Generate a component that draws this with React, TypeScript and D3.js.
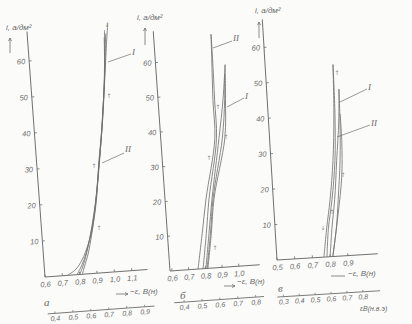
import React from 'react';
import * as d3 from 'd3';

type Pt = [number, number];

// ---------- Panel а ----------
const xTicksA = [0.6, 0.7, 0.8, 0.9, 1.0, 1.1];
const yTicksA = [10, 20, 30, 40, 50, 60];
const x2TicksA = [0.4, 0.5, 0.6, 0.7, 0.8, 0.9];
const curveA1: Pt[] = [[0.73, 0], [0.78, 1.5], [0.82, 4], [0.86, 8], [0.89, 12], [0.93, 21], [0.955, 30], [0.985, 39], [1.005, 46], [1.025, 54], [1.038, 63], [1.04, 65]];
const curveA2: Pt[] = [[0.785, 0], [0.81, 2], [0.84, 5], [0.88, 11], [0.92, 19], [0.95, 28], [0.98, 37], [1.005, 46], [1.03, 55], [1.05, 63], [1.067, 69]];
const curveA3: Pt[] = [[0.8, 0], [0.82, 2], [0.85, 6], [0.89, 13], [0.93, 22], [0.96, 31], [0.99, 40], [1.012, 48], [1.032, 57], [1.05, 66]];
const curveA4: Pt[] = [[0.815, 0], [0.83, 2], [0.86, 6], [0.9, 14], [0.935, 23], [0.965, 32], [0.995, 42], [1.018, 51], [1.035, 60], [1.045, 67]];

// ---------- Panel б ----------
const xTicksB = [0.6, 0.7, 0.8, 0.9, 1.0];
const yTicksB = [10, 20, 30, 40, 50, 60];
const x2TicksB = [0.4, 0.5, 0.6, 0.7, 0.8];
const curveB_IIa: Pt[] = [[0.756, 0], [0.795, 10], [0.833, 20], [0.91, 37], [0.915, 48], [0.925, 60], [0.931, 67]];
const curveB_IIb: Pt[] = [[0.786, 0], [0.82, 10], [0.851, 20], [0.92, 37], [0.925, 48], [0.93, 60], [0.931, 67]];
const curveB_Ia: Pt[] = [[0.803, 0], [0.836, 10], [0.869, 20], [0.935, 37], [0.975, 48], [1.002, 58]];
const curveB_Ic: Pt[] = [[0.81, 0], [0.845, 10], [0.875, 20], [0.955, 37], [0.985, 48], [0.995, 55]];
const curveB_Ib: Pt[] = [[0.815, 0], [0.85, 10], [0.881, 20], [0.97, 37], [0.99, 48], [1.002, 58]];

// ---------- Panel в ----------
const xTicksC = [0.5, 0.6, 0.7, 0.8, 0.9];
const yTicksC = [10, 20, 30, 40, 50, 60];
const x2TicksC = [0.3, 0.4, 0.5, 0.6, 0.7, 0.8];
const curveC_IIa: Pt[] = [[0.765, 0], [0.79, 8], [0.819, 16], [0.849, 27], [0.87, 40], [0.882, 54]];
const curveC_IIb: Pt[] = [[0.782, 0], [0.8, 8], [0.83, 16], [0.86, 27], [0.876, 40], [0.882, 54]];
const curveC_Ia: Pt[] = [[0.8, 0], [0.82, 8], [0.845, 16], [0.87, 27], [0.895, 38], [0.907, 47]];
const curveC_Ib: Pt[] = [[0.815, 0], [0.845, 8], [0.865, 16], [0.889, 27], [0.902, 38], [0.907, 47]];
const curveC_Ic: Pt[] = [[0.815, 0], [0.86, 12], [0.892, 22], [0.905, 32], [0.905, 40]];

const INK = '#707070';
const TXT = '#6a6a6a';
const fmt = (v: number) => d3.format('.1f')(v).replace('.', ',');

interface PanelCfg {
  ox: number; oy: number; angle: number;
  xDomain: [number, number]; xRange: [number, number]; xEnd: number;
  yPerUnit: number; yTop: number;
  xTicks: number[]; yTicks: number[];
  x2Domain: [number, number]; x2Range: [number, number]; x2Line: [number, number]; x2Off: number; x2Ticks: number[];
  curves: Pt[][];
}

const panels: PanelCfg[] = [
  {
    ox: 45, oy: 277, angle: 4.2,
    xDomain: [0.6, 1.1], xRange: [0, 87], xEnd: 1.19,
    yPerUnit: 3.61, yTop: 68.2,
    xTicks: xTicksA, yTicks: yTicksA,
    x2Domain: [0.4, 0.9], x2Range: [7.3, 97.3], x2Line: [0, 107], x2Off: 37, x2Ticks: x2TicksA,
    curves: [curveA1, curveA2, curveA3, curveA4],
  },
  {
    ox: 170, oy: 271, angle: 4.0,
    xDomain: [0.6, 1.0], xRange: [2, 69], xEnd: 1.125,
    yPerUnit: 3.483, yTop: 69,
    xTicks: xTicksB, yTicks: yTicksB,
    x2Domain: [0.4, 0.8], x2Range: [12, 83.7], x2Line: [2, 92], x2Off: 32, x2Ticks: x2TicksB,
    curves: [curveB_IIa, curveB_IIb, curveB_Ia, curveB_Ic, curveB_Ib],
  },
  {
    ox: 277, oy: 260, angle: 3.5,
    xDomain: [0.5, 0.9], xRange: [0, 71], xEnd: 1.069,
    yPerUnit: 3.55, yTop: 67.9,
    xTicks: xTicksC, yTicks: yTicksC,
    x2Domain: [0.3, 0.8], x2Range: [4.2, 83.8], x2Line: [-2, 101], x2Off: 37, x2Ticks: x2TicksC,
    curves: [curveC_IIa, curveC_IIb, curveC_Ia, curveC_Ib, curveC_Ic],
  },
];

const tickFont: React.CSSProperties = { fontFamily: 'Liberation Sans, Arial, sans-serif', fontStyle: 'italic', fontSize: 7.5, fill: TXT };

function Panel({ cfg }: { cfg: PanelCfg }) {
  const x = d3.scaleLinear().domain(cfg.xDomain).range(cfg.xRange);
  const y = d3.scaleLinear().domain([0, 10]).range([0, -10 * cfg.yPerUnit]);
  const x2 = d3.scaleLinear().domain(cfg.x2Domain).range(cfg.x2Range);
  const line = d3.line<Pt>().x(d => x(d[0])).y(d => y(d[1])).curve(d3.curveCatmullRom.alpha(0.5));
  return (
    <g transform={`translate(${cfg.ox},${cfg.oy}) rotate(${-cfg.angle})`}>
      <line x1={0} y1={0} x2={0} y2={y(cfg.yTop)} stroke={INK} strokeWidth={1} />
      <line x1={0} y1={0} x2={x(cfg.xEnd)} y2={0} stroke={INK} strokeWidth={1} />
      {cfg.yTicks.map(t => (
        <g key={'y' + t}>
          <line x1={0} x2={2.5} y1={y(t)} y2={y(t)} stroke={INK} strokeWidth={0.8} />
          <text x={-4} y={y(t)} dy="0.35em" textAnchor="end" style={tickFont}>{t}</text>
        </g>
      ))}
      {cfg.xTicks.map(t => (
        <g key={'x' + t}>
          <line x1={x(t)} x2={x(t)} y1={0} y2={-2.5} stroke={INK} strokeWidth={0.8} />
          <text x={x(t)} y={10} textAnchor="middle" style={tickFont}>{fmt(t)}</text>
        </g>
      ))}
      <line x1={cfg.x2Line[0]} x2={cfg.x2Line[1]} y1={cfg.x2Off} y2={cfg.x2Off} stroke={INK} strokeWidth={0.9} />
      {cfg.x2Ticks.map(t => (
        <g key={'x2' + t}>
          <line x1={x2(t)} x2={x2(t)} y1={cfg.x2Off} y2={cfg.x2Off - 2} stroke={INK} strokeWidth={0.7} />
          <text x={x2(t)} y={cfg.x2Off + 7.5} textAnchor="middle" style={{ ...tickFont, fontSize: 7 }}>{fmt(t)}</text>
        </g>
      ))}
      {cfg.curves.map((c, i) => (
        <path key={i} d={line(c) || ''} fill="none" stroke={INK} strokeWidth={0.8} />
      ))}
    </g>
  );
}

const labelFont: React.CSSProperties = { fontFamily: 'Liberation Sans, Arial, sans-serif', fontStyle: 'italic', fontSize: 8, fill: TXT };
const romanFont: React.CSSProperties = { fontFamily: 'Liberation Serif, serif', fontStyle: 'italic', fontSize: 9, fill: TXT };
const letterFont: React.CSSProperties = { fontFamily: 'Liberation Serif, serif', fontStyle: 'italic', fontSize: 11, fill: TXT };

function UpArrow({ x, y1, y2 }: { x: number; y1: number; y2: number }) {
  return (
    <g stroke={INK} strokeWidth={0.8} fill="none">
      <line x1={x} y1={y1} x2={x} y2={y2} />
      <path d={`M${x - 1.5},${y2 + 3} L${x},${y2} L${x + 1.5},${y2 + 3}`} />
    </g>
  );
}
function RightArrow({ x1, x2, y }: { x1: number; x2: number; y: number }) {
  return (
    <g stroke={INK} strokeWidth={0.8} fill="none">
      <line x1={x1} y1={y} x2={x2} y2={y} />
      <path d={`M${x2 - 3},${y - 1.5} L${x2},${y} L${x2 - 3},${y + 1.5}`} />
    </g>
  );
}
function Lead({ x1, y1, x2, y2 }: { x1: number; y1: number; x2: number; y2: number }) {
  return <line x1={x1} y1={y1} x2={x2} y2={y2} stroke={INK} strokeWidth={0.7} />;
}
const smallMarks: [number, number, string][] = [
  [109, 98, '↑'], [107, 27, '↓'], [94, 168, '↑'], [99, 230, '↑'],
  [218, 109, '↑'], [226, 139, '↑'], [209, 160, '↑'], [215, 250, '↑'],
  [337, 75, '↑'], [343, 177, '↑'], [332, 214, '↑'], [323, 230, '↓'],
];

export default function App() {
  return (
    <svg width={412} height={324} style={{ position: 'absolute', left: 0, top: 0, background: '#fbfbf9' }}>
      {panels.map((p, i) => <Panel key={i} cfg={p} />)}

      {/* panel а annotations */}
      <text x={6} y={30} style={labelFont}>i, a/дм²</text>
      <UpArrow x={10} y1={53} y2={38} />
      <text x={44} y={306} style={letterFont}>а</text>
      <RightArrow x1={116} x2={128} y={294} />
      <text x={130} y={294} style={labelFont}>−ε, B(н)</text>
      <Lead x1={108} y1={62} x2={131} y2={54} />
      <text x={132} y={55} style={romanFont}>I</text>
      <Lead x1={102} y1={163} x2={124} y2={153} />
      <text x={125} y={152} style={romanFont}>II</text>

      {/* panel б annotations */}
      <text x={137} y={20} style={labelFont}>i, a/дм²</text>
      <UpArrow x={145} y1={45} y2={28} />
      <text x={180} y={299} style={letterFont}>б</text>
      <RightArrow x1={224} x2={235} y={286} />
      <text x={237} y={284} style={labelFont}>−ε, B(н)</text>
      <Lead x1={213} y1={48} x2={232} y2={41} />
      <text x={233} y={41} style={romanFont}>II</text>
      <Lead x1={227} y1={107} x2={244} y2={98} />
      <text x={245} y={99} style={romanFont}>I</text>

      {/* panel в annotations */}
      <text x={255} y={13} style={labelFont}>i, a/дм²</text>
      <UpArrow x={259} y1={38} y2={22} />
      <text x={278} y={292} style={letterFont}>в</text>
      <line x1={331} y1={276} x2={345} y2={276} stroke={INK} strokeWidth={0.8} />
      <text x={348} y={276} style={labelFont}>−ε, B(н)</text>
      <Lead x1={340} y1={102} x2={367} y2={89} />
      <text x={368} y={90} style={romanFont}>I</text>
      <Lead x1={337} y1={137} x2={370} y2={125} />
      <text x={371} y={126} style={romanFont}>II</text>
      <text x={360} y={311} style={{ ...labelFont, fontSize: 7 }}>εB(н.в.э)</text>

      {smallMarks.map(([mx, my, s], i) => (
        <text key={i} x={mx} y={my} textAnchor="middle" style={{ fontSize: 6, fill: '#888', fontFamily: 'DejaVu Sans' }}>{s}</text>
      ))}
    </svg>
  );
}
